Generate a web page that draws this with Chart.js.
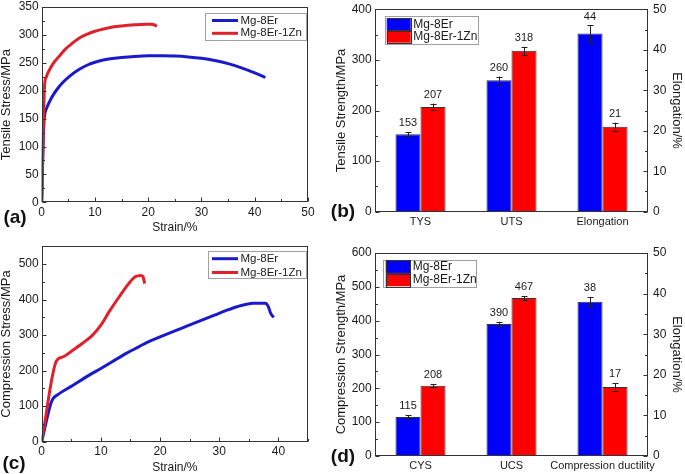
<!DOCTYPE html>
<html><head><meta charset="utf-8">
<script src="https://cdn.jsdelivr.net/npm/chart.js@4.4.1/dist/chart.umd.min.js"></script>
<style>
html,body{margin:0;padding:0;background:#fff;}
#wrap{position:relative;width:685px;height:474px;overflow:hidden;background:#fff;}
canvas{position:absolute;}
.pl{position:absolute;font:bold 19px "Liberation Sans",Arial,sans-serif;color:#111;line-height:1;transform:translate(-50%,-50%);white-space:nowrap;}
</style></head><body>
<div id="wrap">
<canvas id="ca" width="340" height="237" style="left:0;top:0;width:340px;height:237px"></canvas>
<canvas id="cb" width="355" height="237" style="left:330px;top:0;width:355px;height:237px"></canvas>
<canvas id="cc" width="340" height="237" style="left:0;top:237px;width:340px;height:237px"></canvas>
<canvas id="cd" width="355" height="237" style="left:330px;top:237px;width:355px;height:237px"></canvas>
<div class="pl" style="left:15px;top:216px">(a)</div>
<div class="pl" style="left:343px;top:210px">(b)</div>
<div class="pl" style="left:14px;top:462px">(c)</div>
<div class="pl" style="left:343px;top:455px">(d)</div>
</div>
<script>
// ---------- DATA ----------
const seriesNames = ['Mg-8Er', 'Mg-8Er-1Zn'];

// (a) tensile curves
const tensileStrain8Er = [0, 0.2, 0.4, 0.56, 0.9, 1.5, 2.2, 3, 4, 5.5, 7, 8.7, 10, 11.8, 15, 17.5, 20, 22.5, 25, 27.5, 30, 32.5, 35, 37.5, 40, 42];
const tensileStress8Er = [0, 80, 140, 157, 168, 181, 193, 204, 215, 228, 238, 246.5, 251, 255.5, 259.5, 261.5, 262.5, 262.5, 262, 260.5, 258, 254, 248.5, 241, 232, 224];
const tensileStrain1Zn = [0, 0.2, 0.4, 0.55, 0.87, 1.5, 2.4, 3.5, 4.5, 5.5, 7, 8.7, 10, 11.8, 13.3, 15, 17.5, 19.5, 20.5, 21.2, 21.6];
const tensileStress1Zn = [0, 85, 175, 210, 225, 238, 252, 264, 275, 283, 294, 302, 306.5, 311, 314, 316, 318, 319, 319, 318, 315];

// (c) compression curves
const compStrain8Er = [0, 1.5, 1.9, 2.5, 5.3, 8.1, 10, 11.9, 14.2, 16.4, 18, 20, 23.6, 26, 29.2, 31, 33, 35.8, 37.8, 38.3, 38.7, 39.2];
const compStress8Er = [0, 105, 121, 130, 159, 188, 206, 225, 248, 267, 281, 295, 319, 335, 356, 368, 380, 389.5, 390, 380, 361, 350];
const compStrain1Zn = [0, 2.5, 3.6, 5.3, 6.9, 8.6, 10, 11.4, 13.1, 14.7, 15.8, 16.7, 17.1, 17.4];
const compStress1Zn = [0, 228, 239, 258, 277, 300, 328, 366, 408, 445, 464, 468, 465, 445];

// (b) tensile properties
const tensileCategories = ['TYS', 'UTS', 'Elongation'];
const tensStrength8Er = [153, 260, null];
const tensStrength8ErErr = [4.5, 7, null];
const tensStrength1Zn = [207, 318, null];
const tensStrength1ZnErr = [6.5, 8, null];
const tensElong8Er = [null, null, 44];
const tensElong8ErErr = [null, null, 2];
const tensElong1Zn = [null, null, 21];
const tensElong1ZnErr = [null, null, 1];

// (d) compression properties
const compCategories = ['CYS', 'UCS', 'Compression ductility'];
const compStrength8Er = [115, 390, null];
const compStrength8ErErr = [5, 5, null];
const compStrength1Zn = [208, 467, null];
const compStrength1ZnErr = [3.5, 5, null];
const compDuct8Er = [null, null, 38];
const compDuct8ErErr = [null, null, 1.2];
const compDuct1Zn = [null, null, 17];
const compDuct1ZnErr = [null, null, 0.9];

// ---------- STYLE ----------
const FONT = '"Liberation Sans", Arial, sans-serif';
const TXT = '#1a1a1a';
const BLUE_LINE = '#1a1acc', RED_LINE = '#e0202a';
const BLUE_BAR = '#0000ff', RED_BAR = '#ff0000';
Chart.defaults.font.family = FONT;
Chart.defaults.color = TXT;
Chart.defaults.animation = false;

const framePlugin = {
  id: 'frame',
  afterDraw(chart, args, o) {
    const ctx = chart.ctx, a = chart.chartArea;
    const L = Math.round(a.left) + 0.5, R = Math.round(a.right) - 0.5, T = Math.round(a.top) + 0.5, B = Math.round(a.bottom) - 0.5;
    ctx.save();
    ctx.strokeStyle = '#333'; ctx.lineWidth = 1;
    ctx.strokeRect(L, T, R - L, B - T);
    (o.axes || []).forEach(ax => {
      const s = chart.scales[ax.id];
      for (let v = s.min; v <= s.max + 1e-9; v += ax.minor) {
        const isMajor = s.ticks.some(t => Math.abs(t.value - v) < 1e-6);
        const len = isMajor ? 4 : 2.5;
        const p = Math.round(s.getPixelForValue(v)) + 0.5;
        ctx.beginPath();
        if (ax.side === 'bottom') { ctx.moveTo(p, B); ctx.lineTo(p, B - len); }
        else if (ax.side === 'left') { ctx.moveTo(L, p); ctx.lineTo(L + len, p); }
        else { ctx.moveTo(R, p); ctx.lineTo(R - len, p); }
        ctx.stroke();
      }
    });
    ctx.restore();
  }
};

const legendPlugin = {
  id: 'boxLegend',
  afterDraw(chart, args, o) {
    const ctx = chart.ctx;
    ctx.save();
    ctx.fillStyle = '#fff';
    ctx.fillRect(o.x, o.y, o.w, o.h);
    ctx.strokeStyle = '#a0a0a0'; ctx.lineWidth = 1;
    ctx.strokeRect(Math.round(o.x) + 0.5, Math.round(o.y) + 0.5, Math.round(o.w), Math.round(o.h));
    ctx.font = o.font; ctx.textBaseline = 'middle'; ctx.textAlign = 'left';
    o.items.forEach((di, k) => {
      const ds = chart.data.datasets[di];
      const cy = o.rowY[k];
      if (o.kind === 'line') {
        ctx.strokeStyle = ds.borderColor; ctx.lineWidth = 3;
        ctx.beginPath(); ctx.moveTo(o.sx0, cy); ctx.lineTo(o.sx1, cy); ctx.stroke();
      } else {
        ctx.fillStyle = ds.backgroundColor;
        ctx.fillRect(o.sx0, cy - o.sh / 2, o.sx1 - o.sx0, o.sh);
        ctx.strokeStyle = '#333'; ctx.lineWidth = 1;
        ctx.strokeRect(Math.round(o.sx0) + 0.5, Math.round(cy - o.sh / 2) + 0.5, Math.round(o.sx1 - o.sx0), Math.round(o.sh));
      }
      ctx.fillStyle = TXT;
      ctx.fillText(ds.label, o.tx, cy);
    });
    ctx.restore();
  }
};

const errPlugin = {
  id: 'errLabels',
  afterDatasetsDraw(chart) {
    const ctx = chart.ctx;
    ctx.save();
    chart.data.datasets.forEach((ds, di) => {
      const meta = chart.getDatasetMeta(di);
      const ys = chart.scales[ds.yAxisID || 'y'];
      meta.data.forEach((bar, i) => {
        const v = ds.data[i];
        if (v === null || v === undefined) return;
        const e = ds.errors[i] || 0;
        const yt = ys.getPixelForValue(v + e), yb = ys.getPixelForValue(v - e);
        const x = Math.round(bar.x) + 0.5;
        ctx.strokeStyle = '#222'; ctx.lineWidth = 1;
        ctx.beginPath();
        ctx.moveTo(x, yt); ctx.lineTo(x, yb);
        ctx.moveTo(x - 3, Math.round(yt) + 0.5); ctx.lineTo(x + 3, Math.round(yt) + 0.5);
        ctx.moveTo(x - 3, Math.round(yb) + 0.5); ctx.lineTo(x + 3, Math.round(yb) + 0.5);
        ctx.stroke();
        ctx.fillStyle = TXT; ctx.font = '11px ' + FONT;
        ctx.textAlign = 'center'; ctx.textBaseline = 'middle';
        ctx.fillText(String(v), bar.x, yt - 9);
      });
    });
    ctx.restore();
  }
};

function pts(xs, ys) { return xs.map((x, i) => ({ x: x, y: ys[i] })); }

function lineChart(id, cfg) {
  return new Chart(document.getElementById(id), {
    type: 'line',
    data: { datasets: [
      { label: seriesNames[0], data: pts(cfg.x0, cfg.y0), borderColor: BLUE_LINE, borderWidth: 3, pointRadius: 0, cubicInterpolationMode: 'monotone', order: 1 },
      { label: seriesNames[1], data: pts(cfg.x1, cfg.y1), borderColor: RED_LINE, borderWidth: 3, pointRadius: 0, cubicInterpolationMode: 'monotone', order: 0 }
    ]},
    options: {
      responsive: false, animation: false,
      layout: { padding: { top: cfg.top, right: 32, bottom: 0, left: 0 } },
      plugins: {
        legend: { display: false }, tooltip: { enabled: false },
        frame: { axes: [{ id: 'x', side: 'bottom', minor: 5 }, { id: 'y', side: 'left', minor: cfg.yMinor }] },
        boxLegend: cfg.legend
      },
      scales: {
        x: { type: 'linear', min: 0, max: cfg.xMax,
             grid: { display: false, drawTicks: false }, border: { display: false },
             ticks: { stepSize: 10, padding: 3, font: { size: 12 }, color: TXT, maxRotation: 0, includeBounds: false },
             title: { display: true, text: 'Strain/%', font: { size: 12 }, color: TXT, padding: { top: 0, bottom: cfg.xtPad } },
             afterFit: s => { s.height = cfg.xh; s.paddingLeft = 0; s.paddingRight = 0; } },
        y: { type: 'linear', min: 0, max: cfg.yMax,
             grid: { display: false, drawTicks: false }, border: { display: false },
             ticks: { stepSize: cfg.yStep, padding: 3, font: { size: 12 }, color: TXT, includeBounds: false },
             title: { display: true, text: cfg.yTitle, font: { size: 13 }, color: TXT, padding: { top: -1, bottom: 0 } },
             afterFit: s => { s.width = 41.7; s.paddingTop = 0; s.paddingBottom = 0; } }
      }
    },
    plugins: [framePlugin, legendPlugin]
  });
}

function barChart(id, cfg) {
  return new Chart(document.getElementById(id), {
    type: 'bar',
    data: { labels: cfg.labels, datasets: [
      { label: seriesNames[0], data: cfg.s0, errors: cfg.e0, yAxisID: 'y', backgroundColor: BLUE_BAR, borderColor: '#333', borderWidth: 1, skipNull: true },
      { label: seriesNames[1], data: cfg.s1, errors: cfg.e1, yAxisID: 'y', backgroundColor: RED_BAR, borderColor: '#333', borderWidth: 1, skipNull: true },
      { label: seriesNames[0], data: cfg.p0, errors: cfg.pe0, yAxisID: 'y2', backgroundColor: BLUE_BAR, borderColor: '#333', borderWidth: 1, skipNull: true },
      { label: seriesNames[1], data: cfg.p1, errors: cfg.pe1, yAxisID: 'y2', backgroundColor: RED_BAR, borderColor: '#333', borderWidth: 1, skipNull: true }
    ]},
    options: {
      responsive: false, animation: false,
      categoryPercentage: 0.55, barPercentage: 1.0,
      layout: { padding: { top: cfg.top, right: 0, bottom: 0, left: 0 } },
      plugins: {
        legend: { display: false }, tooltip: { enabled: false },
        frame: { axes: [{ id: 'y', side: 'left', minor: 50 }, { id: 'y2', side: 'right', minor: 5 }] },
        boxLegend: cfg.legend
      },
      scales: {
        x: { grid: { display: false, drawTicks: false }, border: { display: false },
             ticks: { padding: 3.4, font: { size: 11 }, color: TXT, maxRotation: 0, minRotation: 0, autoSkip: false },
             afterFit: s => { s.height = cfg.xh; s.paddingLeft = 0; s.paddingRight = 0; } },
        y: { position: 'left', min: 0, max: cfg.yMax,
             grid: { display: false, drawTicks: false }, border: { display: false },
             ticks: { stepSize: 100, padding: 3.3, font: { size: 12 }, color: TXT },
             title: { display: true, text: cfg.yTitle, font: { size: 13 }, color: TXT, padding: { top: 3.2, bottom: 0 } },
             afterFit: s => { s.width = 45; s.paddingTop = 0; s.paddingBottom = 0; } },
        y2: { position: 'right', min: 0, max: 50,
             grid: { display: false, drawTicks: false }, border: { display: false },
             ticks: { stepSize: 10, padding: 5, font: { size: 12 }, color: TXT },
             title: { display: true, text: 'Elongation/%', font: { size: 13 }, color: TXT, padding: { top: 0.5, bottom: 0 } },
             afterFit: s => { s.width = 37; s.paddingTop = 0; s.paddingBottom = 0; } }
      }
    },
    plugins: [errPlugin, framePlugin, legendPlugin]
  });
}

lineChart('ca', {
  x0: tensileStrain8Er, y0: tensileStress8Er, x1: tensileStrain1Zn, y1: tensileStress1Zn,
  top: 7, xMax: 50, yMax: 350, yStep: 50, yMinor: 25, xh: 34.7, xtPad: 1.8,
  yTitle: 'Tensile Stress/MPa',
  legend: { kind: 'line', x: 205, y: 13.3, w: 101, h: 26.7, items: [0, 1], rowY: [20.5, 33.3], sx0: 212, sx1: 238, tx: 240.5, font: '11.5px ' + FONT }
});

lineChart('cc', {
  x0: compStrain8Er, y0: compStress8Er, x1: compStrain1Zn, y1: compStress1Zn,
  top: 9.3, xMax: 45, yMax: 550, yStep: 100, yMinor: 50, xh: 32.3, xtPad: -1,
  yTitle: 'Compression Stress/MPa',
  legend: { kind: 'line', x: 208, y: 14.3, w: 98, h: 27.4, items: [0, 1], rowY: [21.7, 35.5], sx0: 212, sx1: 238, tx: 240.5, font: '11.5px ' + FONT }
});

barChart('cb', {
  labels: tensileCategories,
  s0: tensStrength8Er, e0: tensStrength8ErErr, s1: tensStrength1Zn, e1: tensStrength1ZnErr,
  p0: tensElong8Er, pe0: tensElong8ErErr, p1: tensElong1Zn, pe1: tensElong1ZnErr,
  top: 9.3, xh: 25.3, yMax: 400, yTitle: 'Tensile Strength/MPa',
  legend: { kind: 'bar', x: 55, y: 16, w: 93.3, h: 28.3, items: [0, 1], rowY: [24.2, 36.7], sh: 12, sx0: 56.7, sx1: 80.7, tx: 83.3, font: '12px ' + FONT }
});

barChart('cd', {
  labels: compCategories,
  s0: compStrength8Er, e0: compStrength8ErErr, s1: compStrength1Zn, e1: compStrength1ZnErr,
  p0: compDuct8Er, pe0: compDuct8ErErr, p1: compDuct1Zn, pe1: compDuct1ZnErr,
  top: 16, xh: 18, yMax: 600, yTitle: 'Compression Strength/MPa',
  legend: { kind: 'bar', x: 53.3, y: 22.7, w: 93.4, h: 27.3, items: [0, 1], rowY: [29.7, 43], sh: 12.5, sx0: 55.7, sx1: 80, tx: 82.7, font: '12px ' + FONT }
});
</script>
</body></html>
